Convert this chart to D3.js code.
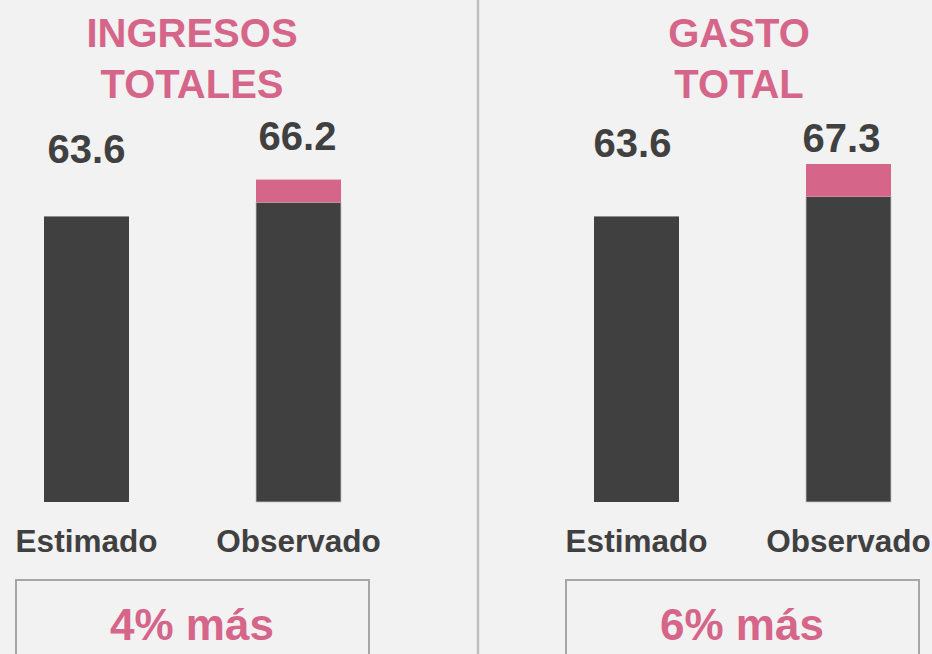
<!DOCTYPE html>
<html>
<head>
<meta charset="utf-8">
<script src="https://cdn.jsdelivr.net/npm/d3@7"></script>
<style>
  html, body { margin: 0; padding: 0; background: #f2f2f2; }
  svg { display: block; font-family: "Liberation Sans", Arial, Helvetica, sans-serif; }
</style>
</head>
<body>
<svg id="chart" width="932" height="654"></svg>
<script>
// data
var titles = [['INGRESOS', 'TOTALES'], ['GASTO', 'TOTAL']];
var categories = ['Estimado', 'Observado'];
var estimado = [63.6, 63.6];
var observado = [66.2, 67.3];
var observadoBase = [64.6, 65.0]; // dark part of the observed bar
var diffLabels = ['4% más', '6% más'];

var pink = '#d6658a';
var dark = '#404040';

var svg = d3.select('#chart');
svg.append('rect').attr('width', 932).attr('height', 654).attr('fill', '#f2f2f2');

// divider between the two panels
svg.append('line')
  .attr('x1', 478).attr('x2', 478)
  .attr('y1', 0).attr('y2', 654)
  .attr('stroke', '#c0c0c0')
  .attr('stroke-width', 2.5);

var x = d3.scalePoint().domain(categories).range([86.5, 298.5]);
var y = d3.scaleLinear().domain([43.45, 67.3]).range([502, 164]);
var barW = 85;

// label positions were placed by hand in the original
var labelY = [[163, 150], [157, 152]];
var labelDx = [[0, -1], [-4, -7]];
var titleX = [192, 189];
var offsets = [0, 550];

titles.forEach(function(t, p) {
  var g = svg.append('g').attr('transform', 'translate(' + offsets[p] + ',0)');

  g.selectAll('text.title')
    .data(t)
    .enter().append('text')
    .attr('class', 'title')
    .attr('x', titleX[p])
    .attr('y', function(d, i) { return 47 + i * 51; })
    .attr('text-anchor', 'middle')
    .attr('font-size', 40)
    .attr('font-weight', 'bold')
    .attr('fill', pink)
    .text(function(d) { return d; });

  var segs = [
    { cat: 'Estimado', y0: y.domain()[0], y1: estimado[p], c: dark, s: 'none' },
    { cat: 'Observado', y0: y.domain()[0], y1: observadoBase[p], c: dark, s: '#c4c4c4' },
    { cat: 'Observado', y0: observadoBase[p], y1: observado[p], c: pink, s: 'none' }
  ];

  g.selectAll('rect.bar')
    .data(segs)
    .enter().append('rect')
    .attr('class', 'bar')
    .attr('x', function(d) { return x(d.cat) - barW / 2; })
    .attr('width', barW)
    .attr('y', function(d) { return y(d.y1); })
    .attr('height', function(d) { return y(d.y0) - y(d.y1); })
    .attr('fill', function(d) { return d.c; })
    .attr('stroke', function(d) { return d.s; })
    .attr('stroke-width', 0.8);

  var vals = [estimado[p], observado[p]];
  g.selectAll('text.val')
    .data(vals)
    .enter().append('text')
    .attr('class', 'val')
    .attr('x', function(d, i) { return x(categories[i]) + labelDx[p][i]; })
    .attr('y', function(d, i) { return labelY[p][i]; })
    .attr('text-anchor', 'middle')
    .attr('font-size', 40)
    .attr('font-weight', 'bold')
    .attr('fill', dark)
    .text(function(d) { return d.toFixed(1); });

  g.selectAll('text.cat')
    .data(categories)
    .enter().append('text')
    .attr('class', 'cat')
    .attr('x', function(d) { return x(d); })
    .attr('y', 552)
    .attr('text-anchor', 'middle')
    .attr('font-size', 31.5)
    .attr('font-weight', 'bold')
    .attr('fill', dark)
    .text(function(d) { return d; });

  g.append('rect')
    .attr('x', 16).attr('y', 580)
    .attr('width', 353).attr('height', 110)
    .attr('fill', 'none')
    .attr('stroke', '#a6a6a6')
    .attr('stroke-width', 2);

  g.append('text')
    .attr('x', 192)
    .attr('y', 640)
    .attr('text-anchor', 'middle')
    .attr('font-size', 44)
    .attr('font-weight', 'bold')
    .attr('fill', pink)
    .text(diffLabels[p]);
});
</script>
</body>
</html>
